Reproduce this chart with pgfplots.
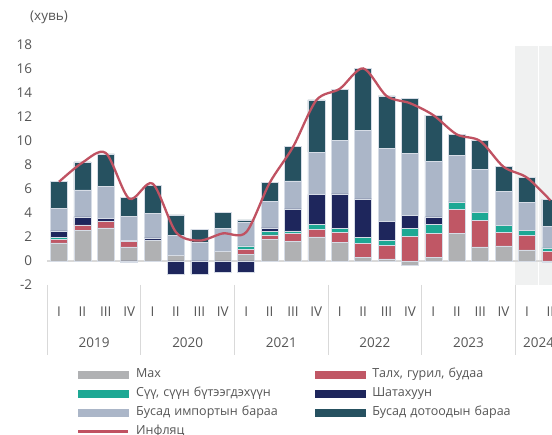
\documentclass[border=0pt]{standalone}
\usepackage{fontspec}
\setmainfont{Open Sans}
\usepackage{pgfplots}
\usepackage{pgfplotstable}
\pgfplotsset{compat=1.18}

\definecolor{cMah}{RGB}{176,177,179}
\definecolor{cTalh}{RGB}{192,87,101}
\definecolor{cSuu}{RGB}{29,168,148}
\definecolor{cShat}{RGB}{30,38,92}
\definecolor{cImp}{RGB}{171,182,200}
\definecolor{cDot}{RGB}{38,81,96}
\definecolor{cInf}{RGB}{192,82,98}
\definecolor{cTxt}{RGB}{85,85,85}
\definecolor{cSep}{RGB}{217,217,217}
\definecolor{cShade}{RGB}{240,241,241}
\definecolor{cEdge}{RGB}{214,220,230}

% positive parts of the contributions, by quarter (0 = 2019 Q1)
\pgfplotstableread{
x  mah  talh suu  shat imp  dot  inf
0  1.50 0.33 0.14 0.53 1.89 2.22 6.60
1  2.56 0.45 0.00 0.66 2.25 2.33 8.20
2  2.75 0.53 0.00 0.30 2.64 2.70 9.00
3  1.18 0.45 0.07 0.00 2.00 1.61 5.20
4  1.69 0.00 0.00 0.23 2.05 2.36 6.45
5  0.47 0.00 0.00 0.00 1.69 1.69 2.40
6  0.00 0.00 0.00 0.00 1.58 1.06 1.70
7  0.78 0.00 0.00 0.00 1.92 1.38 2.30
8  0.58 0.39 0.28 0.00 1.94 0.23 2.40
9  1.80 0.37 0.30 0.28 2.22 1.56 6.50
10 1.64 0.67 0.20 1.83 2.34 2.86 9.50
11 2.00 0.65 0.43 2.48 3.50 4.36 13.40
12 1.55 0.82 0.35 2.88 4.43 4.30 14.35
13 0.33 1.11 0.53 3.20 5.72 5.17 16.05
14 0.17 1.11 0.41 1.64 6.06 4.36 13.75
15 0.00 2.07 0.62 1.09 5.19 4.59 13.15
16 0.30 2.00 0.77 0.60 4.63 3.86 12.15
17 2.31 2.02 0.59 0.00 3.86 1.78 10.55
18 1.17 2.20 0.69 0.00 3.58 2.39 10.00
19 1.25 1.12 0.61 0.00 2.83 2.06 7.85
20 0.92 1.22 0.39 0.00 2.36 2.05 6.95
21 0.00 0.80 0.30 0.00 1.81 2.25 5.05
}\pos

% negative parts
\pgfplotstableread{
x  mah   shat
3  0.00  -0.10
5  0.00  -1.08
6  0.00  -1.08
7  0.00  -0.97
8  0.00  -0.97
15 -0.39 0.00
21 -0.10 0.00
}\neg

\pgfplotsset{
  base/.style={
    at={(47.3pt,-285pt)}, anchor=south west,
    scale only axis, width=504.7pt, height=240pt,
    xmin=-0.5, xmax=21.07, ymin=-2, ymax=18,
    axis line style={draw=none}, major tick length=0pt,
    clip mode=individual,
  },
  barstyle/.style={draw=cEdge, line width=0.5pt, fill=#1},
}

\begin{document}
\begin{tikzpicture}
\useasboundingbox (0,0) rectangle (552pt,-435pt);

\node[font=\fontsize{13.5}{16}\selectfont, text=cTxt] at (49pt,-17pt) {(хувь)};

% background axis: shading, baseline, separators, tick labels
\begin{axis}[base,
  xtick={0,...,21},
  xticklabels={I,II,III,IV,I,II,III,IV,I,II,III,IV,I,II,III,IV,I,II,III,IV,I,II},
  xticklabel style={anchor=base, yshift=-32pt, inner sep=0pt, font=\fontsize{13.5}{16}\selectfont, text=cTxt},
  extra x ticks={1.5,5.5,9.5,13.5,17.5,20.5},
  extra x tick labels={2019,2020,2021,2022,2023,2024},
  extra x tick style={xticklabel style={yshift=-31pt}},
  ytick={-2,0,2,4,6,8,10,12,14,16,18},
  yticklabels={-2,0,2,4,6,8,10,12,14,16,18},
  yticklabel style={anchor=east, inner sep=0pt, xshift=-15pt, font=\fontsize{13.5}{16}\selectfont, text=cTxt},
]
\fill[cShade] (axis cs:19.5,-2) rectangle (axis cs:20.47,17.9);
\fill[cShade] (axis cs:20.53,-2) rectangle (axis cs:21.07,17.9);
\draw[cSep, line width=1.2pt] (axis cs:-0.5,0) -- (axis cs:21.07,0);
\draw[cSep, line width=1pt] (axis cs:-0.5,-2) -- ([yshift=-70pt]axis cs:-0.5,-2);
\draw[cSep, line width=1pt] (axis cs:3.5,-2) -- ([yshift=-70pt]axis cs:3.5,-2);
\draw[cSep, line width=1pt] (axis cs:7.5,-2) -- ([yshift=-70pt]axis cs:7.5,-2);
\draw[cSep, line width=1pt] (axis cs:11.5,-2) -- ([yshift=-70pt]axis cs:11.5,-2);
\draw[cSep, line width=1pt] (axis cs:15.5,-2) -- ([yshift=-70pt]axis cs:15.5,-2);
\draw[cSep, line width=1pt] (axis cs:19.5,-2) -- ([yshift=-70pt]axis cs:19.5,-2);
\end{axis}

% positive contributions
\begin{axis}[base, ybar stacked, bar width=17pt, xtick=\empty, ytick=\empty]
\addplot[barstyle=cMah]  table[x=x,y=mah]  {\pos};
\addplot[barstyle=cTalh] table[x=x,y=talh] {\pos};
\addplot[barstyle=cSuu]  table[x=x,y=suu]  {\pos};
\addplot[barstyle=cShat] table[x=x,y=shat] {\pos};
\addplot[barstyle=cImp]  table[x=x,y=imp]  {\pos};
\addplot[barstyle=cDot]  table[x=x,y=dot]  {\pos};
\end{axis}

% negative contributions
\begin{axis}[base, ybar stacked, bar width=17pt, xtick=\empty, ytick=\empty]
\addplot[barstyle=cMah]  table[x=x,y=mah]  {\neg};
\addplot[barstyle=cShat] table[x=x,y=shat] {\neg};
\end{axis}

% inflation line and legend
\begin{axis}[base, xtick=\empty, ytick=\empty,
  legend columns=2, legend cell align=left,
  legend style={at={(0.0588,-0.3470)}, anchor=north west, draw=none, fill=none,
    inner sep=0pt, outer sep=0pt, row sep=6.5pt,
    font=\fontsize{12.5}{15}\selectfont, text=cTxt,
    nodes={inner sep=0pt, text height=9.5pt, text depth=3pt},
    /tikz/every odd column/.append style={column sep=6.7pt},
    /tikz/every even column/.append style={text width=179pt}},
]
\addlegendimage{legend image code/.code={\fill[cMah] (0pt,-3.4pt) rectangle (50pt,3.4pt);}}
\addlegendentry{Мах}
\addlegendimage{legend image code/.code={\fill[cTalh] (0pt,-3.4pt) rectangle (50pt,3.4pt);}}
\addlegendentry{Талх, гурил, будаа}
\addlegendimage{legend image code/.code={\fill[cSuu] (0pt,-3.4pt) rectangle (50pt,3.4pt);}}
\addlegendentry{Сүү, сүүн бүтээгдэхүүн}
\addlegendimage{legend image code/.code={\fill[cShat] (0pt,-3.4pt) rectangle (50pt,3.4pt);}}
\addlegendentry{Шатахуун}
\addlegendimage{legend image code/.code={\fill[cImp] (0pt,-3.4pt) rectangle (50pt,3.4pt);}}
\addlegendentry{Бусад импортын бараа}
\addlegendimage{legend image code/.code={\fill[cDot] (0pt,-3.4pt) rectangle (50pt,3.4pt);}}
\addlegendentry{Бусад дотоодын бараа}
\addplot[cInf, line width=2.3pt, smooth, no markers,
  legend image code/.code={\draw[cInf, line width=2.5pt] (0pt,0pt) -- (50pt,0pt);}]
  table[x=x,y=inf] {\pos};
\addlegendentry{Инфляц}
\end{axis}
\end{tikzpicture}
\end{document}
